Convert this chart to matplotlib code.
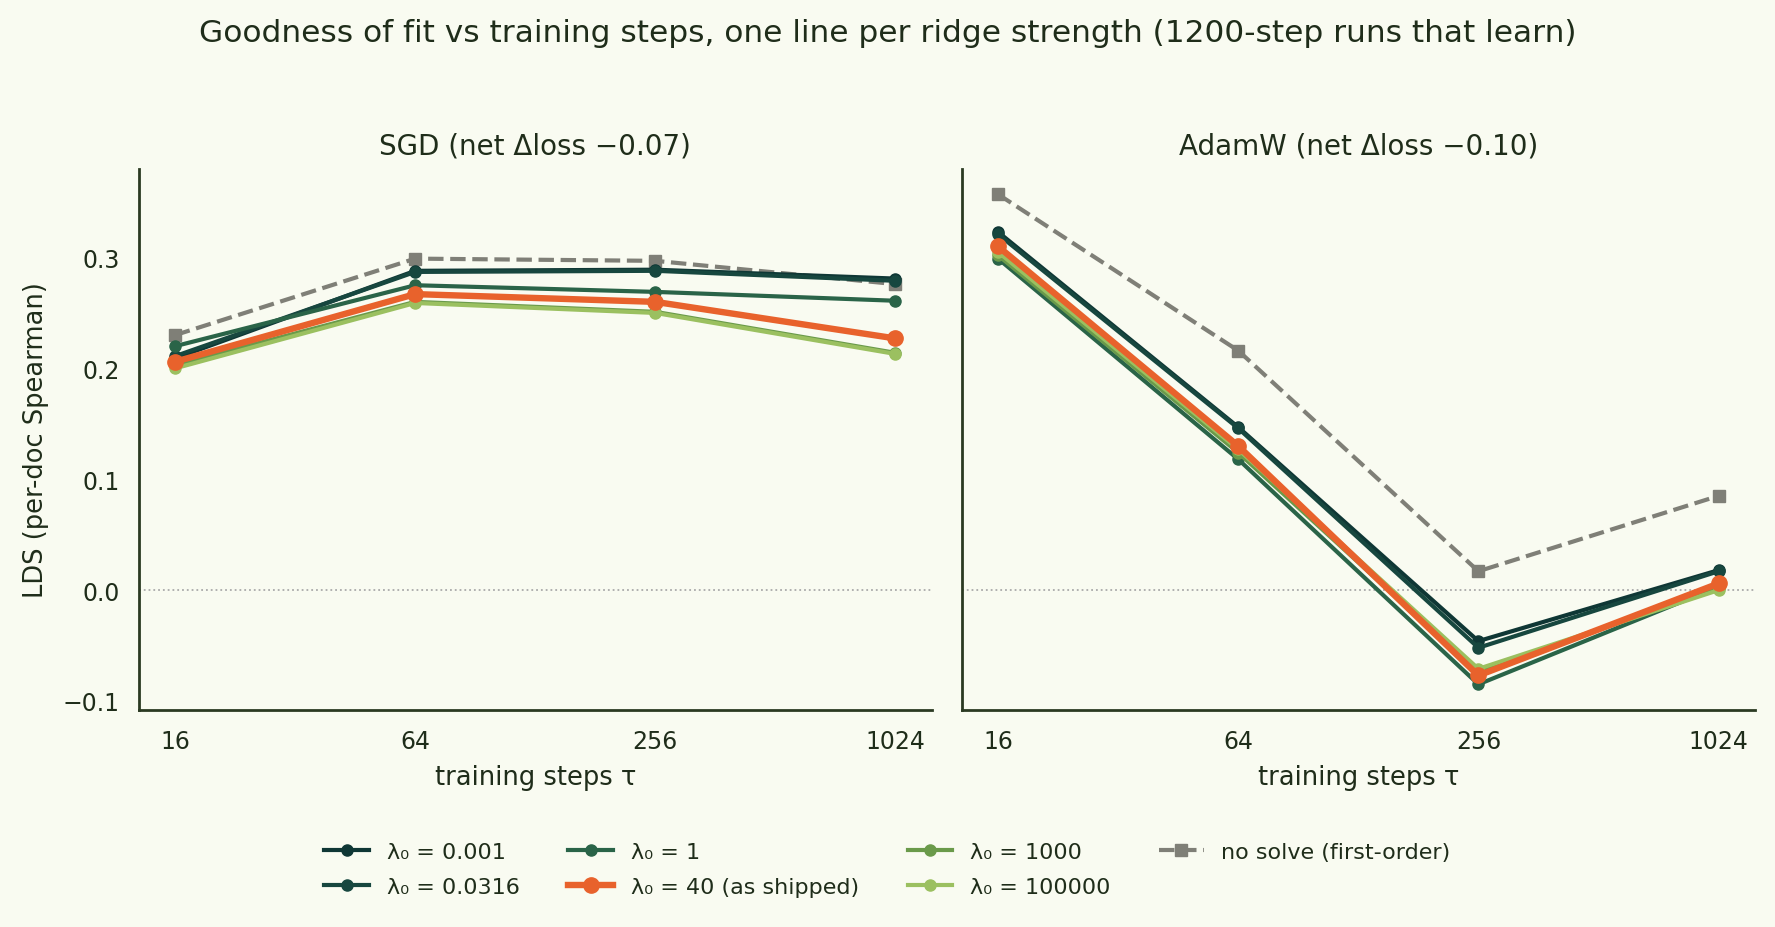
import matplotlib
matplotlib.use("Agg")
import matplotlib.pyplot as plt

# training steps (log2 x axis)
steps = [16, 64, 256, 1024]

labels = ["λ₀ = 0.001", "λ₀ = 0.0316", "λ₀ = 1", "λ₀ = 40 (as shipped)",
          "λ₀ = 1000", "λ₀ = 100000"]
colors = ["#0f3735", "#17473f", "#2a6448", "#e8622c", "#6a9a4a", "#9bc060"]

# LDS values, one list per ridge strength
sgd_vals = [
    [0.209, 0.288, 0.289, 0.281],
    [0.211, 0.287, 0.288, 0.279],
    [0.220, 0.275, 0.269, 0.261],
    [0.206, 0.267, 0.260, 0.227],
    [0.203, 0.260, 0.251, 0.214],
    [0.200, 0.259, 0.250, 0.213],
]
sgd_nosolve = [0.230, 0.299, 0.297, 0.276]

adamw_vals = [
    [0.323, 0.147, -0.046, 0.018],
    [0.321, 0.146, -0.052, 0.017],
    [0.299, 0.118, -0.085, 0.003],
    [0.310, 0.130, -0.077, 0.006],
    [0.302, 0.124, -0.074, 0.002],
    [0.305, 0.127, -0.071, 0.000],
]
adamw_nosolve = [0.357, 0.216, 0.017, 0.085]

panels = [
    ("SGD (net Δloss −0.07)", sgd_vals, sgd_nosolve),
    ("AdamW (net Δloss −0.10)", adamw_vals, adamw_nosolve),
]

BG = "#f9fbf1"
INK = "#1f2d1a"

plt.rcParams["font.family"] = ["DejaVu Sans"]
fig = plt.figure(figsize=(17.75, 9.28), dpi=100, facecolor=BG)

lefts = [0.0783, 0.542]
axes = []
for i, (title, vals, nosolve) in enumerate(panels):
    ax = fig.add_axes([lefts[i], 0.234, 0.4465, 0.583], facecolor=BG,
                      sharey=axes[0] if axes else None)
    axes.append(ax)
    ax.axhline(0, color="#aaaaaa", lw=1.3, ls=":", zorder=1)
    for lab, col, v in zip(labels, colors, vals):
        shipped = "40" in lab
        ax.plot(steps, v, color=col, marker="o",
                lw=4.6 if shipped else 3.0,
                ms=11 if shipped else 8,
                label=lab, zorder=4 if shipped else 3)
    ax.plot(steps, nosolve, color="#7f7f77", marker="s", ls="--", lw=3.0,
            ms=8, label="no solve (first-order)", zorder=2)
    ax.set_xscale("log", base=2)
    ax.set_xticks(steps)
    ax.set_xticklabels([str(s) for s in steps])
    ax.minorticks_off()
    ax.set_ylim(-0.108, 0.38)
    ax.set_yticks([-0.1, 0.0, 0.1, 0.2, 0.3])
    ax.set_title(title, fontsize=20, color=INK, pad=11)
    ax.set_xlabel("training steps τ", fontsize=18.5, color=INK, labelpad=8)
    for s in ["top", "right"]:
        ax.spines[s].set_visible(False)
    for s in ["left", "bottom"]:
        ax.spines[s].set_color("#2b3a22")
        ax.spines[s].set_linewidth(2)
    ax.tick_params(length=0, pad=14, labelsize=17, colors=INK)

axes[0].set_ylabel("LDS (per-doc Spearman)", fontsize=18.5, color=INK, labelpad=10)
axes[1].tick_params(axis="y", labelleft=False)

handles, labs = axes[0].get_legend_handles_labels()
fig.legend(handles, labs, loc="center", bbox_to_anchor=(0.5, 0.062), ncol=4,
           frameon=False, fontsize=16, labelcolor=INK, columnspacing=2.2,
           handlelength=2.0, labelspacing=0.7)

fig.suptitle("Goodness of fit vs training steps, one line per ridge strength (1200-step runs that learn)",
             fontsize=22.5, color=INK, y=0.979, va="top")

fig.savefig("out.png", dpi=100, facecolor=BG)
